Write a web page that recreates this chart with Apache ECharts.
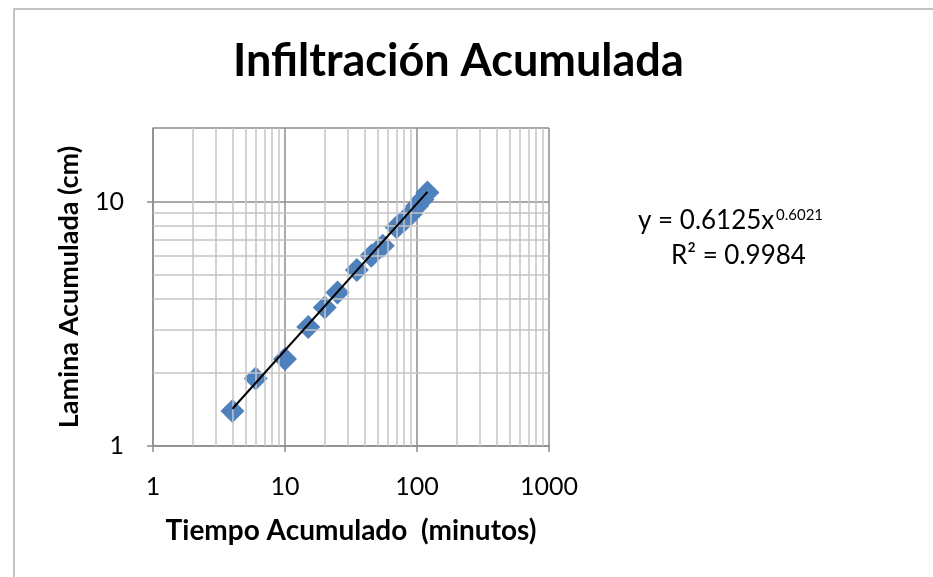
<!DOCTYPE html>
<html><head><meta charset="utf-8">
<script src="https://cdn.jsdelivr.net/npm/echarts@6/dist/echarts.min.js"></script>
<style>html,body{margin:0;padding:0;background:#fff}#c{width:933px;height:577px}</style>
</head><body><div id="c"></div>
<script>
// Data
const tiempo = [4, 6, 10, 15, 20, 25, 35, 45, 55, 70, 80, 90, 100, 110, 120];
const lamina = [1.39, 1.89, 2.27, 3.07, 3.69, 4.25, 5.25, 6.0, 6.6, 7.85, 8.36, 8.9, 9.6, 10.2, 10.9];
const trendX = [4, 120];
const trendY = [1.42, 10.95];
const minorX = [2,3,4,5,6,7,8,9,20,30,40,50,60,70,80,90,200,300,400,500,600,700,800,900];
const minorY = [2,3,4,5,6,7,8,9];
const yLabels = [1, 10];
const xLabels = [1, 10, 100, 1000];
const title = 'Infiltración Acumulada';
const xName = 'Tiempo Acumulado  (minutos)';
const yName = 'Lamina Acumulada (cm)';
const eqText = 'y = 0.6125x';
const eqExp = '0.6021';
const r2Text = 'R² = 0.9984';

const FONT = 'Lato, Carlito, "Open Sans", sans-serif';
const chart = echarts.init(document.getElementById('c'), null, {renderer: 'canvas'});
const minorLines = minorX.map(v => ({xAxis: v})).concat(minorY.map(v => ({yAxis: v})));
chart.setOption({
  animation: false,
  backgroundColor: '#fff',
  title: {
    text: title, left: 228, top: 34,
    textStyle: {fontFamily: FONT, fontWeight: 'bold', fontSize: 45, color: '#000'}
  },
  grid: {left: 153, right: 384, top: 128, bottom: 131},
  xAxis: {
    type: 'log', logBase: 10, min: 1, max: 1000,
    name: xName, nameLocation: 'middle', nameGap: 71,
    nameTextStyle: {fontFamily: FONT, fontWeight: 'bold', fontSize: 28, color: '#000'},
    axisLine: {show: true, lineStyle: {color: '#8c8c8c', width: 1.5}},
    axisTick: {show: true, length: 6, lineStyle: {color: '#8c8c8c', width: 1.5}},
    axisLabel: {fontFamily: FONT, fontSize: 25, color: '#000', margin: 28,
      formatter: v => xLabels.includes(Math.round(v)) ? String(Math.round(v)) : ''},
    splitLine: {show: true, lineStyle: {color: '#8c8c8c', width: 1.5}}
  },
  yAxis: {
    type: 'log', logBase: 10, min: 1, max: 20,
    name: yName, nameLocation: 'middle', nameGap: 70, nameRotate: 90,
    nameTextStyle: {fontFamily: FONT, fontWeight: 'bold', fontSize: 27, color: '#000'},
    axisLine: {show: true, lineStyle: {color: '#8c8c8c', width: 1.5}},
    axisTick: {show: true, length: 6, lineStyle: {color: '#8c8c8c', width: 1.5}},
    axisLabel: {fontFamily: FONT, fontSize: 25, color: '#000', margin: 29, showMaxLabel: false,
      formatter: v => yLabels.includes(Math.round(v * 1000) / 1000) ? String(Math.round(v)) : ''},
    splitLine: {show: true, lineStyle: {color: '#8c8c8c', width: 1.5}}
  },
  series: [
    {
      type: 'line', data: [], silent: true,
      markLine: {silent: true, symbol: ['none', 'none'], label: {show: false},
        lineStyle: {color: '#c4c4c4', width: 1.5, type: 'solid'}, data: minorLines}
    },
    {
      type: 'scatter', symbol: 'diamond', symbolSize: 24,
      itemStyle: {color: '#4f81bd', opacity: 1}, z: 3,
      data: tiempo.map((t, i) => [t, lamina[i]])
    },
    {
      type: 'line', showSymbol: false, symbol: 'none', z: 6,
      lineStyle: {color: '#000', width: 2, opacity: 1},
      data: trendX.map((t, i) => [t, trendY[i]])
    }
  ],
  graphic: [
    {type: 'polyline', shape: {points: [[14, 577], [14, 9], [933, 9]]}, style: {stroke: '#b0b0b0', lineWidth: 1.5, fill: null}},
    {type: 'text', left: 638, top: 208, style: {text: eqText, font: '26px ' + FONT, fill: '#000'}},
    {type: 'text', left: 776, top: 208, style: {text: eqExp, font: '15px ' + FONT, fill: '#000'}},
    {type: 'text', left: 671, top: 243, style: {text: r2Text, font: '26px ' + FONT, fill: '#000'}}
  ]
});
</script></body></html>
